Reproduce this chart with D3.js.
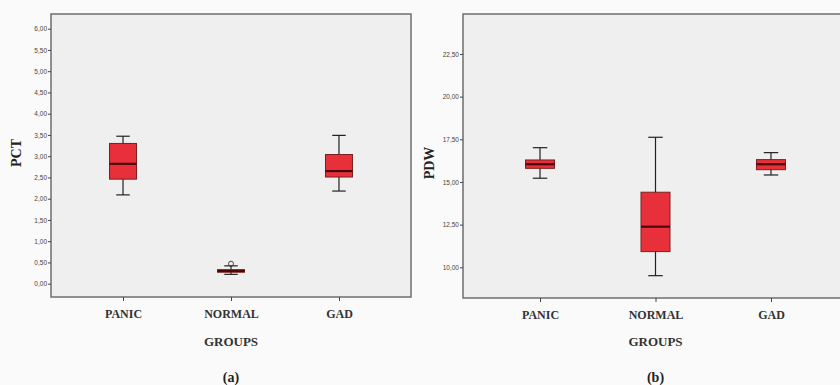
<!DOCTYPE html>
<html>
<head>
<meta charset="utf-8">
<script src="https://cdn.jsdelivr.net/npm/d3@7"></script>
<style>
  body { margin: 0; background: #fafafa; }
  svg { display: block; }
</style>
</head>
<body>
<div id="chart"></div>
<script>
var groups = ["PANIC", "NORMAL", "GAD"];

// box stats per group: [whiskerLow, q1, median, q3, whiskerHigh]
var pctStats = [
  [2.09, 2.46, 2.82, 3.30, 3.47],
  [0.22, 0.27, 0.30, 0.33, 0.42],
  [2.18, 2.51, 2.65, 3.04, 3.49]
];
var pctOutliers = [[], [0.47], []];
var pctTicks = [0, 0.5, 1, 1.5, 2, 2.5, 3, 3.5, 4, 4.5, 5, 5.5, 6];

var pdwStats = [
  [15.22, 15.80, 16.04, 16.29, 17.01],
  [9.51, 10.92, 12.38, 14.40, 17.62],
  [15.41, 15.72, 16.04, 16.31, 16.72]
];
var pdwOutliers = [[], [], []];
var pdwTicks = [10, 12.5, 15, 17.5, 20, 22.5];

var width = 840, height = 385;

var svg = d3.select("#chart").append("svg")
  .attr("width", width)
  .attr("height", height);

var fmt = function(v) { return d3.format(".2f")(v).replace(".", ","); };

function drawPanel(opt) {
  var x = d3.scalePoint()
    .domain(groups)
    .range([opt.left, opt.right])
    .padding(0.667);

  var y = d3.scaleLinear()
    .domain(opt.domain)
    .range([opt.bottom, opt.top]);

  var g = svg.append("g");

  g.append("rect")
    .attr("x", opt.left)
    .attr("y", opt.top)
    .attr("width", opt.right - opt.left)
    .attr("height", opt.bottom - opt.top)
    .attr("fill", "#efefef")
    .attr("stroke", "#6e6e6e")
    .attr("stroke-width", 1.5);

  // y axis
  var yAxis = g.append("g")
    .attr("transform", "translate(" + opt.left + ",0)")
    .call(d3.axisLeft(y).tickValues(opt.ticks).tickFormat(fmt).tickSize(3).tickPadding(1));
  yAxis.select(".domain").remove();
  yAxis.selectAll("line").attr("stroke", "#444");
  yAxis.selectAll("text")
    .attr("font-family", "Arial, 'Liberation Sans', sans-serif")
    .attr("font-size", 6.5)
    .attr("fill", "#444");

  // x axis
  var xAxis = g.append("g")
    .attr("transform", "translate(0," + opt.bottom + ")")
    .call(d3.axisBottom(x).tickSize(4).tickPadding(8));
  xAxis.select(".domain").remove();
  xAxis.selectAll("line").attr("stroke", "#444");
  xAxis.selectAll("text")
    .attr("font-family", "'Liberation Serif', 'Times New Roman', serif")
    .attr("font-weight", "bold")
    .attr("font-size", 12)
    .attr("fill", "#333");

  var boxW = opt.boxW;

  var box = g.selectAll(".box")
    .data(opt.stats)
    .enter()
    .append("g")
    .attr("transform", function(d, i) { return "translate(" + x(groups[i]) + ",0)"; });

  box.append("line")
    .attr("x1", 0).attr("x2", 0)
    .attr("y1", function(d) { return y(d[0]); })
    .attr("y2", function(d) { return y(d[4]); })
    .attr("stroke", "#222").attr("stroke-width", 1.2);

  box.selectAll(".cap")
    .data(function(d) { return [d[0], d[4]]; })
    .enter()
    .append("line")
    .attr("x1", -boxW / 4).attr("x2", boxW / 4)
    .attr("y1", function(v) { return y(v); })
    .attr("y2", function(v) { return y(v); })
    .attr("stroke", "#222").attr("stroke-width", 1.2);

  box.append("rect")
    .attr("x", -boxW / 2)
    .attr("width", boxW)
    .attr("y", function(d) { return y(d[3]); })
    .attr("height", function(d) { return Math.max(1, y(d[1]) - y(d[3])); })
    .attr("fill", "#e8303a")
    .attr("stroke", "#7a2020")
    .attr("stroke-width", 1);

  box.append("line")
    .attr("x1", -boxW / 2).attr("x2", boxW / 2)
    .attr("y1", function(d) { return y(d[2]); })
    .attr("y2", function(d) { return y(d[2]); })
    .attr("stroke", "#4a0808").attr("stroke-width", 2.2);

  box.selectAll(".out")
    .data(function(d, i) { return opt.outliers[i]; })
    .enter()
    .append("circle")
    .attr("cx", 0)
    .attr("cy", function(v) { return y(v); })
    .attr("r", 2.5)
    .attr("fill", "none")
    .attr("stroke", "#333")
    .attr("stroke-width", 0.9);

  // y title
  svg.append("text")
    .attr("transform", "translate(" + opt.yTitleX + "," + opt.yTitleY + ") rotate(-90)")
    .attr("text-anchor", "middle")
    .attr("font-family", "'Liberation Serif', 'Times New Roman', serif")
    .attr("font-weight", "bold")
    .attr("font-size", 14)
    .attr("fill", "#222")
    .text(opt.yTitle);

  var mid = x(groups[1]);

  svg.append("text")
    .attr("x", mid)
    .attr("y", 346)
    .attr("text-anchor", "middle")
    .attr("font-family", "'Liberation Serif', 'Times New Roman', serif")
    .attr("font-weight", "bold")
    .attr("font-size", 13)
    .attr("fill", "#333")
    .text("GROUPS");

  svg.append("text")
    .attr("x", mid)
    .attr("y", 382)
    .attr("text-anchor", "middle")
    .attr("font-family", "'Liberation Serif', 'Times New Roman', serif")
    .attr("font-weight", "bold")
    .attr("font-size", 14)
    .attr("fill", "#222")
    .text(opt.label);
}

// domains padded so that 0,00 sits at y=283.7 and 6,00 at y=28.7
drawPanel({
  left: 51, right: 411, top: 14, bottom: 297,
  domain: [-(297 - 283.7) / 42.5, 6 + (28.7 - 14) / 42.5],
  ticks: pctTicks,
  stats: pctStats,
  outliers: pctOutliers,
  boxW: 27,
  yTitle: "PCT", yTitleX: 21, yTitleY: 153,
  label: "(a)"
});

// 10,00 at y=267.3, 22,50 at y=54
drawPanel({
  left: 463, right: 848, top: 14, bottom: 298,
  domain: [10 - (298 - 267.3) / 17.07, 22.5 + (54 - 14) / 17.07],
  ticks: pdwTicks,
  stats: pdwStats,
  outliers: pdwOutliers,
  boxW: 29,
  yTitle: "PDW", yTitleX: 434, yTitleY: 163,
  label: "(b)"
});
</script>
</body>
</html>
